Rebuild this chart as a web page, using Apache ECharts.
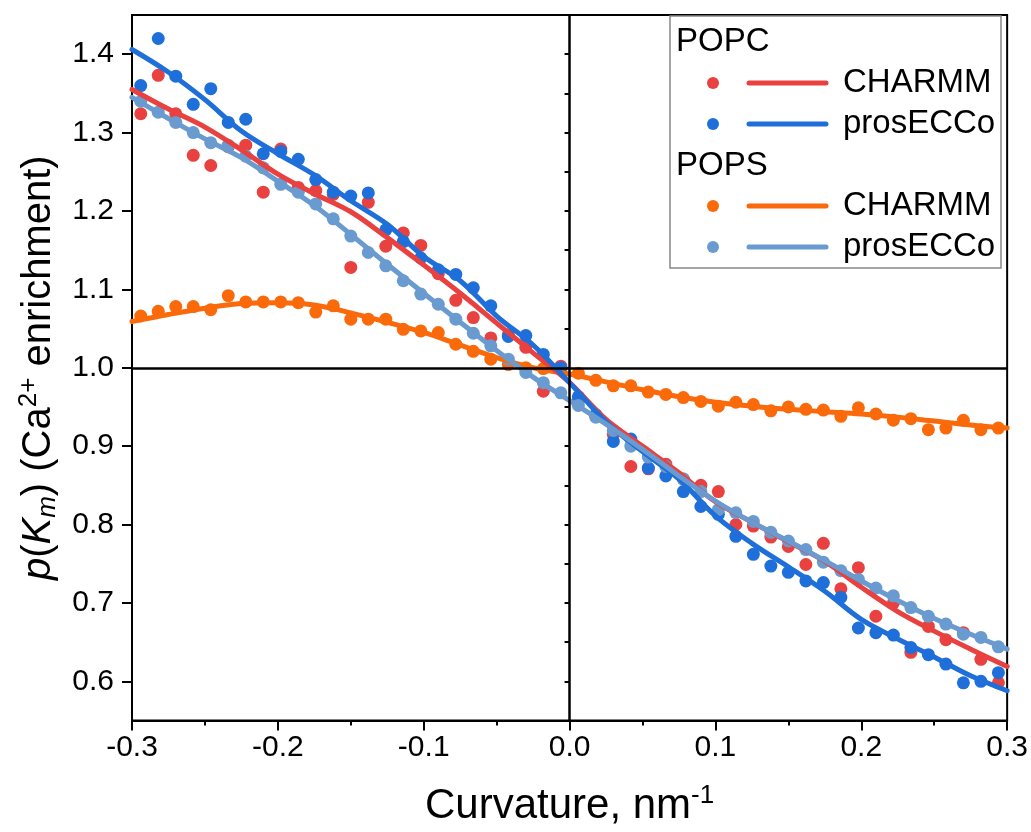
<!DOCTYPE html>
<html><head><meta charset="utf-8">
<script src="https://cdn.jsdelivr.net/npm/echarts@6/dist/echarts.min.js"></script>
<style>html,body{margin:0;padding:0;background:#fff}#c{width:1031px;height:832px}</style>
</head><body><div id="c"></div>
<script>
// Curvature bin centres (nm^-1)
const xPoints = [-0.294,-0.282,-0.270,-0.258,-0.246,-0.234,-0.222,-0.210,-0.198,-0.186,-0.174,-0.162,-0.150,-0.138,-0.126,-0.114,-0.102,-0.090,-0.078,-0.066,-0.054,-0.042,-0.030,-0.018,-0.006,0.006,0.018,0.030,0.042,0.054,0.066,0.078,0.090,0.102,0.114,0.126,0.138,0.150,0.162,0.174,0.186,0.198,0.210,0.222,0.234,0.246,0.258,0.270,0.282,0.294];
// POPC CHARMM points
const popcCharmm = [1.324,1.373,1.324,1.271,1.258,1.282,1.284,1.224,1.279,1.230,1.226,1.221,1.128,1.211,1.155,1.172,1.156,1.120,1.086,1.064,1.038,1.042,1.026,0.970,1.002,0.958,0.938,0.915,0.874,0.871,0.877,0.858,0.850,0.842,0.800,0.798,0.784,0.772,0.749,0.776,0.718,0.745,0.683,0.700,0.637,0.670,0.653,0.662,0.628,0.598];
// POPC prosECCo points
const popcProsecco = [1.360,1.420,1.372,1.336,1.356,1.313,1.317,1.273,1.276,1.266,1.240,1.224,1.219,1.223,1.176,1.161,1.140,1.125,1.119,1.102,1.079,1.040,1.041,1.017,1.000,0.963,0.940,0.906,0.909,0.872,0.862,0.842,0.823,0.813,0.785,0.762,0.747,0.739,0.728,0.726,0.707,0.668,0.662,0.659,0.643,0.634,0.622,0.598,0.600,0.611];
// POPS CHARMM points
const popsCharmm = [1.066,1.072,1.078,1.078,1.074,1.092,1.084,1.084,1.084,1.083,1.071,1.079,1.062,1.062,1.062,1.049,1.047,1.045,1.030,1.021,1.011,1.004,1.000,0.999,0.998,0.993,0.984,0.977,0.977,0.969,0.966,0.962,0.957,0.951,0.956,0.953,0.945,0.950,0.947,0.946,0.938,0.949,0.941,0.933,0.935,0.921,0.923,0.933,0.921,0.923];
// POPS prosECCo points
const popsProsecco = [1.340,1.326,1.313,1.300,1.287,1.284,1.270,1.255,1.234,1.224,1.209,1.190,1.168,1.147,1.130,1.111,1.094,1.081,1.062,1.044,1.028,1.011,0.994,0.981,0.968,0.952,0.937,0.920,0.900,0.886,0.874,0.858,0.842,0.819,0.815,0.804,0.790,0.779,0.768,0.752,0.741,0.730,0.719,0.709,0.694,0.683,0.673,0.660,0.656,0.644];
// Smoothed fit curves
const fitX = [-0.3,-0.275,-0.25,-0.225,-0.2,-0.175,-0.15,-0.125,-0.1,-0.075,-0.05,-0.025,0,0.025,0.05,0.075,0.1,0.125,0.15,0.175,0.2,0.225,0.25,0.275,0.3];
const fitPopcCharmm = [1.355,1.330,1.307,1.278,1.247,1.222,1.199,1.166,1.131,1.095,1.057,1.019,0.981,0.934,0.900,0.866,0.829,0.803,0.778,0.753,0.720,0.689,0.664,0.641,0.619];
const fitPopcProsecco = [1.406,1.377,1.342,1.302,1.273,1.246,1.213,1.183,1.142,1.111,1.066,1.029,0.981,0.931,0.893,0.858,0.811,0.776,0.746,0.715,0.679,0.654,0.631,0.607,0.588];
const fitPopsCharmm = [1.059,1.068,1.076,1.082,1.083,1.080,1.070,1.058,1.045,1.029,1.013,1.000,0.992,0.982,0.972,0.963,0.956,0.951,0.947,0.944,0.941,0.937,0.932,0.927,0.923];
const fitPopsProsecco = [1.345,1.318,1.292,1.268,1.238,1.207,1.170,1.132,1.095,1.058,1.022,0.988,0.958,0.928,0.896,0.862,0.830,0.803,0.779,0.754,0.728,0.703,0.680,0.660,0.641];
// Tick labels
const yMajorTicks = [0.6,0.7,0.8,0.9,1.0,1.1,1.2,1.3,1.4];

const C_RED = '#E8413F', C_BLUE = '#1E6FD9', C_ORANGE = '#FA6A0A', C_LBLUE = '#6A9BD0';
const FONT = "'Liberation Sans', Arial, sans-serif";

function pts(xs, ys){ return xs.map((x,i)=>[x, ys[i]]); }
function scatter(name, ys, color){
  return {name, type:'scatter', data:pts(xPoints, ys), symbol:'circle', symbolSize:13,
    itemStyle:{color, opacity:1}, silent:true, z:3};
}
function fit(name, ys, color){
  return {name, type:'line', data:pts(fitX, ys), smooth:0.35, showSymbol:false, symbol:'none',
    lineStyle:{color, width:5, cap:'round', join:'round'}, silent:true, z:4};
}

const chart = echarts.init(document.getElementById('c'), null, {renderer:'canvas'});
const legendRows = [
  {label:'CHARMM', color:C_RED, y:83},
  {label:'prosECCo', color:C_BLUE, y:124},
  {label:'CHARMM', color:C_ORANGE, y:206},
  {label:'prosECCo', color:C_LBLUE, y:247}
];
const LF = '33px ' + FONT;
const graphics = [
  {type:'rect', shape:{x:670, y:16, width:331, height:252}, style:{fill:'#fff', stroke:'#888', lineWidth:1.5}, z:100},
  {type:'text', x:676, y:42, style:{text:'POPC', font:LF, fill:'#000', textVerticalAlign:'middle'}, z:101},
  {type:'text', x:676, y:166, style:{text:'POPS', font:LF, fill:'#000', textVerticalAlign:'middle'}, z:101}
];
legendRows.forEach(r=>{
  graphics.push({type:'circle', shape:{cx:713, cy:r.y, r:6}, style:{fill:r.color}, z:101});
  graphics.push({type:'line', shape:{x1:749, y1:r.y, x2:826, y2:r.y}, style:{stroke:r.color, lineWidth:5, lineCap:'round'}, z:101});
  graphics.push({type:'text', x:843, y:r.y, style:{text:r.label, font:LF, fill:'#000', textVerticalAlign:'middle'}, z:101});
});

const option = {
  backgroundColor:'#fff',
  animation:false,
  textStyle:{fontFamily:FONT},
  grid:{left:132, right:23, top:15, bottom:111, show:true, borderColor:'#000', borderWidth:2, backgroundColor:'transparent'},
  xAxis:{
    type:'value', min:-0.3, max:0.3, interval:0.1,
    axisLine:{show:true, onZero:false, lineStyle:{color:'#000', width:2}},
    axisTick:{show:true, inside:false, length:10, lineStyle:{color:'#000', width:2}},
    minorTick:{show:true, splitNumber:2, length:5, lineStyle:{color:'#000', width:2}},
    splitLine:{show:false},
    axisLabel:{color:'#000', fontSize:30, fontFamily:FONT, margin:12,
      formatter:v=>{const r=Math.round(v*10)/10; return (Math.abs(r)<1e-9?0:r).toFixed(1);}},
    name:'Curvature, nm{sup|-1}', nameLocation:'middle', nameGap:62,
    nameTextStyle:{color:'#000', fontSize:42, fontFamily:FONT,
      rich:{sup:{fontSize:26, fontFamily:FONT, color:'#000', padding:[0,0,21,0]}}}
  },
  yAxis:[{
    type:'value', min:0.55, max:1.45,
    axisLine:{show:true, onZero:false, lineStyle:{color:'#000', width:2}},
    axisTick:{show:true, inside:false, length:10, customValues:yMajorTicks, lineStyle:{color:'#000', width:2}},
    splitLine:{show:false},
    axisLabel:{color:'#000', fontSize:30, fontFamily:FONT, margin:18, customValues:yMajorTicks,
      formatter:v=>(Math.round(v*10)/10).toFixed(1)},
    name:'{i|p}({i|K}{sub|m}) (Ca{sup|2+} enrichment)', nameLocation:'middle', nameRotate:90, nameGap:70,
    nameTextStyle:{color:'#000', fontSize:40, fontFamily:FONT,
      rich:{
        i:{fontStyle:'italic', fontSize:40, fontFamily:FONT, color:'#000'},
        sub:{fontStyle:'italic', fontSize:26, fontFamily:FONT, color:'#000', padding:[18,0,0,0]},
        sup:{fontSize:26, fontFamily:FONT, color:'#000', padding:[0,0,20,0]}
      }}
  },{
    type:'value', min:0.55, max:1.45, interval:0.05, position:'left',
    axisLine:{show:false},
    axisTick:{show:true, inside:false, length:5, lineStyle:{color:'#000', width:2}},
    axisLabel:{show:false}, splitLine:{show:false}
  }],
  graphic:graphics,
  series:[
    {type:'line', data:[], silent:true, z:1,
      markLine:{silent:true, symbol:'none', label:{show:false}, animation:false,
        lineStyle:{color:'#000', width:2.5, type:'solid'},
        data:[{xAxis:0},{yAxis:1}]}},
    scatter('POPS CHARMM', popsCharmm, C_ORANGE),
    fit('POPS CHARMM fit', fitPopsCharmm, C_ORANGE),
    scatter('POPC CHARMM', popcCharmm, C_RED),
    fit('POPC CHARMM fit', fitPopcCharmm, C_RED),
    scatter('POPC prosECCo', popcProsecco, C_BLUE),
    fit('POPC prosECCo fit', fitPopcProsecco, C_BLUE),
    scatter('POPS prosECCo', popsProsecco, C_LBLUE),
    fit('POPS prosECCo fit', fitPopsProsecco, C_LBLUE)
  ]
};
chart.setOption(option);
</script></body></html>
